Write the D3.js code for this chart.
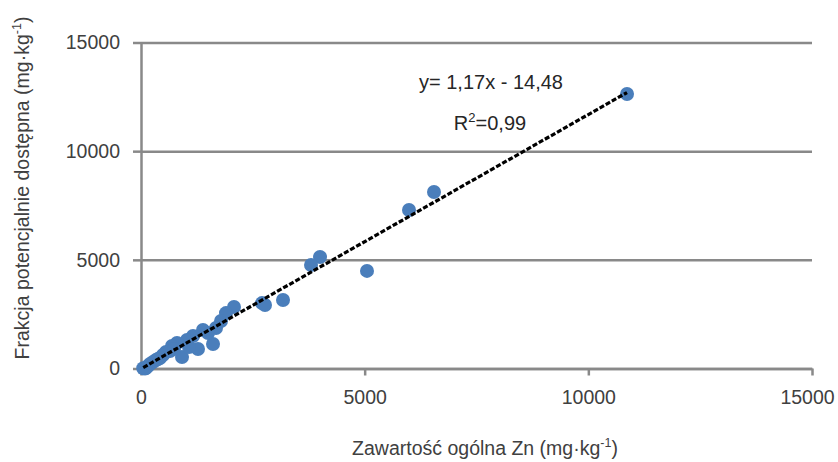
<!DOCTYPE html>
<html>
<head>
<meta charset="utf-8">
<script src="https://cdn.jsdelivr.net/npm/d3@7"></script>
<style>
  body { margin: 0; background: #fff; }
  text { font-family: "Liberation Sans", Arial, sans-serif; }
</style>
</head>
<body>
<svg id="chart" width="838" height="462"></svg>
<script>
// Zn: zawartosc ogolna vs frakcja potencjalnie dostepna (mg/kg)
var totalZn = [10865, 6550, 5991, 5052, 4002, 3801, 3175, 2705, 2772, 2079,
  1900, 1789, 1677, 1610, 1498, 1386, 1274, 1163, 1028, 917,
  805, 693, 559, 492, 425, 335, 268, 201, 156, 112, 50, 89, 380, 648, 1073, 738];
var availZn = [12630, 8121, 7293, 4490, 5130, 4762, 3152, 3010, 2920, 2830,
  2550, 2185, 1863, 1127, 1633, 1771, 897, 1495, 1311, 529,
  1173, 1035, 759, 621, 483, 391, 299, 207, 115, 23, 10, 0, 437, 805, 989, 897];
var xTicks = [0, 5000, 10000, 15000];
var yTicks = [0, 5000, 10000, 15000];
var slope = 1.17, intercept = -14.48;

var svg = d3.select("#chart");
// uwaga: "top" to window.top -> inne nazwy
var mLeft = 141, mRight = 812, mTop = 42.5, mBottom = 368.5;

var x = d3.scaleLinear().domain([0, 15000]).range([mLeft, mRight]);
var y = d3.scaleLinear().domain([0, 15000]).range([mBottom, mTop]);
var fmt = d3.format("d");

var gray = "#898989";

// siatka
var grid = svg.append("g").attr("transform", "translate(" + mLeft + ",0)")
  .call(d3.axisLeft(y).tickValues(yTicks).tickSize(-(mRight - mLeft)).tickFormat(""));
grid.select(".domain").remove();
grid.selectAll("line").attr("stroke", gray).attr("stroke-width", 2.5);

// os Y
var ya = svg.append("g").attr("transform", "translate(" + mLeft + ",0)")
  .call(d3.axisLeft(y).tickValues(yTicks).tickFormat(fmt).tickSize(8).tickSizeOuter(0).tickPadding(13));
ya.select(".domain").attr("stroke", gray).attr("stroke-width", 2.5);
ya.selectAll("line").attr("stroke", gray).attr("stroke-width", 2.5);
ya.selectAll("text").attr("font-size", 19.5).attr("fill", "#404040")
  .attr("font-family", "Liberation Sans, Arial, sans-serif");

// os X
var xa = svg.append("g").attr("transform", "translate(0," + mBottom + ")")
  .call(d3.axisBottom(x).tickValues(xTicks).tickFormat(fmt).tickSize(7).tickSizeOuter(0).tickPadding(15));
xa.select(".domain").attr("stroke", gray).attr("stroke-width", 2.5);
xa.selectAll("line").attr("stroke", gray).attr("stroke-width", 2.5);
xa.selectAll("text").attr("font-size", 19.5).attr("fill", "#404040")
  .attr("font-family", "Liberation Sans, Arial, sans-serif");
// ostatnia etykieta przesunieta, zeby sie miescila
xa.selectAll("text").filter(function(d){ return d === 15000; }).attr("dx", -5);

// punkty
var pts = totalZn.map(function(v, i){ return [v, availZn[i]]; });
svg.append("g").selectAll("circle").data(pts).enter().append("circle")
  .attr("cx", function(d){ return x(d[0]); })
  .attr("cy", function(d){ return y(d[1]); })
  .attr("r", 7)
  .attr("fill", "#4a7ebb");

// linia trendu
var x0 = d3.min(totalZn), x1 = d3.max(totalZn);
svg.append("line")
  .attr("x1", x(x0)).attr("y1", y(slope * x0 + intercept))
  .attr("x2", x(x1)).attr("y2", y(slope * x1 + intercept))
  .attr("stroke", "#000").attr("stroke-width", 3.2)
  .attr("stroke-dasharray", "5,2");

// rownanie
svg.append("text").attr("x", 491).attr("y", 89).attr("text-anchor", "middle")
  .attr("font-size", 20).attr("fill", "#262626").text("y= 1,17x - 14,48");
var r2 = svg.append("text").attr("x", 490).attr("y", 130).attr("text-anchor", "middle")
  .attr("font-size", 20).attr("fill", "#262626");
r2.append("tspan").text("R");
r2.append("tspan").attr("font-size", 13).attr("dy", -8).text("2");
r2.append("tspan").attr("dy", 8).text("=0,99");

// tytuly osi
var xt = svg.append("text").attr("x", 485).attr("y", 455).attr("text-anchor", "middle")
  .attr("font-size", 19.5).attr("fill", "#404040");
xt.append("tspan").text("Zawartość ogólna Zn (mg·kg");
xt.append("tspan").attr("font-size", 12.5).attr("dy", -8).text("-1");
xt.append("tspan").attr("dy", 8).text(")");

var yt = svg.append("text").attr("transform", "translate(29,188) rotate(-90)")
  .attr("text-anchor", "middle").attr("font-size", 19.5).attr("fill", "#404040");
yt.append("tspan").text("Frakcja potencjalnie dostępna (mg·kg");
yt.append("tspan").attr("font-size", 12.5).attr("dy", -8).text("-1");
yt.append("tspan").attr("dy", 8).text(")");
</script>
</body>
</html>
